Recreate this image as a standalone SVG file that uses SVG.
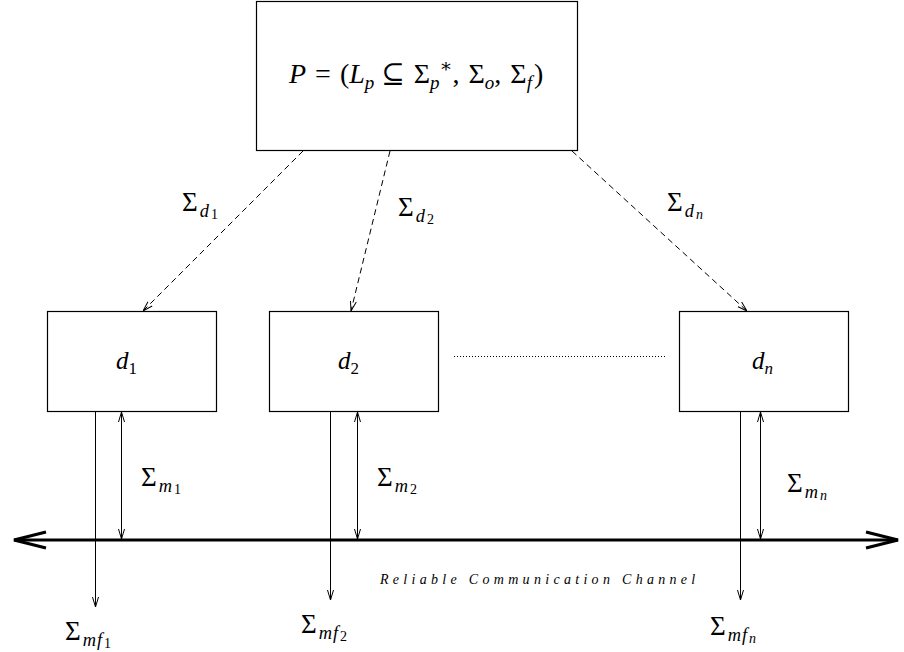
<svg xmlns="http://www.w3.org/2000/svg" width="904" height="652" viewBox="0 0 904 652">
<style>
.box{fill:#fff;stroke:#000;stroke-width:1.2}
.ln{stroke:#000;stroke-width:1;fill:none}
.dash{stroke:#000;stroke-width:1;fill:none;stroke-dasharray:6,4}
text{font-family:"Liberation Serif","DejaVu Serif",serif;fill:#000}
.i{font-style:italic}
.s1{font-size:68%}
.s2{font-size:52%}
</style>
<defs>
<marker id="ah" viewBox="0 0 10 10" refX="10" refY="5" markerWidth="10" markerHeight="10" markerUnits="userSpaceOnUse" orient="auto-start-reverse">
<path d="M0,2 L10,5 L0,8" fill="none" stroke="#000" stroke-width="1"/>
</marker>
<marker id="big" viewBox="0 0 36 20" refX="34" refY="10" markerWidth="36" markerHeight="20" markerUnits="userSpaceOnUse" orient="auto-start-reverse">
<path d="M2,2 L34,10 L2,18" fill="none" stroke="#000" stroke-width="3"/>
</marker>
</defs>
<rect width="904" height="652" fill="#fff"/>

<g id="P">
<rect class="box" x="256.5" y="1.5" width="321" height="149"/>
<text x="289" y="83" font-size="28" word-spacing="2"><tspan class="i">P</tspan> = (<tspan class="i">L</tspan><tspan class="i s1" dy="6">p</tspan><tspan dx="7" dy="-6">⊆ Σ</tspan><tspan class="i s1" dy="6">p</tspan><tspan class="s1" dy="-17">∗</tspan><tspan dy="11">, Σ</tspan><tspan class="i s1" dy="6">o</tspan><tspan dy="-6">, Σ</tspan><tspan class="i s1" dy="6">f</tspan><tspan dx="2" dy="-6">)</tspan></text>
</g>

<g id="d1">
<rect class="box" x="47.5" y="311.5" width="169" height="100"/>
<text x="116" y="369" font-size="25"><tspan class="i">d</tspan><tspan class="s1" dy="5">1</tspan></text>
</g>
<g id="d2">
<rect class="box" x="269.5" y="311.5" width="169" height="100"/>
<text x="338" y="369" font-size="25"><tspan class="i">d</tspan><tspan class="s1" dy="5">2</tspan></text>
</g>
<g id="dn">
<rect class="box" x="679.5" y="311.5" width="169" height="100"/>
<text x="752" y="369" font-size="25"><tspan class="i">d</tspan><tspan class="i s1" dy="5">n</tspan></text>
</g>

<g id="connectors">
<line class="dash" x1="303" y1="151" x2="143" y2="311" marker-end="url(#ah)"/>
<line class="dash" x1="390" y1="151" x2="351" y2="311" marker-end="url(#ah)"/>
<line class="dash" x1="572" y1="151" x2="747" y2="311" marker-end="url(#ah)"/>
<line x1="454" y1="356.5" x2="666" y2="356.5" stroke="#000" stroke-width="1" stroke-dasharray="1,2"/>
<line x1="14" y1="540" x2="898" y2="540" stroke="#000" stroke-width="3" marker-start="url(#big)" marker-end="url(#big)"/>
<line class="ln" x1="95.5" y1="412" x2="95.5" y2="607" marker-end="url(#ah)"/>
<line class="ln" x1="121.5" y1="412" x2="121.5" y2="539" marker-start="url(#ah)" marker-end="url(#ah)"/>
<line class="ln" x1="330.5" y1="412" x2="330.5" y2="600" marker-end="url(#ah)"/>
<line class="ln" x1="357.5" y1="412" x2="357.5" y2="539" marker-start="url(#ah)" marker-end="url(#ah)"/>
<line class="ln" x1="740.5" y1="412" x2="740.5" y2="600" marker-end="url(#ah)"/>
<line class="ln" x1="760.5" y1="412" x2="760.5" y2="539" marker-start="url(#ah)" marker-end="url(#ah)"/>
</g>

<g id="labels" font-size="27">
<text x="182" y="211">Σ<tspan class="i s1" dx="2" dy="6">d</tspan><tspan class="s2" dx="2" dy="2">1</tspan></text>
<text x="398" y="216">Σ<tspan class="i s1" dx="2" dy="6">d</tspan><tspan class="s2" dx="2" dy="2">2</tspan></text>
<text x="667" y="211">Σ<tspan class="i s1" dx="2" dy="6">d</tspan><tspan class="i s2" dx="2" dy="2">n</tspan></text>
<text x="141" y="486">Σ<tspan class="i s1" dx="2" dy="6">m</tspan><tspan class="s2" dx="2" dy="2">1</tspan></text>
<text x="377" y="486">Σ<tspan class="i s1" dx="2" dy="6">m</tspan><tspan class="s2" dx="2" dy="2">2</tspan></text>
<text x="787" y="492">Σ<tspan class="i s1" dx="2" dy="6">m</tspan><tspan class="i s2" dx="2" dy="2">n</tspan></text>
<text x="65" y="640">Σ<tspan class="i s1" dx="2" dy="6">m</tspan><tspan class="i s1" dx="1">f</tspan><tspan class="s2" dx="2" dy="2">1</tspan></text>
<text x="301" y="633">Σ<tspan class="i s1" dx="2" dy="6">m</tspan><tspan class="i s1" dx="1">f</tspan><tspan class="s2" dx="2" dy="2">2</tspan></text>
<text x="710" y="635">Σ<tspan class="i s1" dx="2" dy="6">m</tspan><tspan class="i s1" dx="1">f</tspan><tspan class="i s2" dx="2" dy="2">n</tspan></text>
<text class="i" x="380" y="584" font-size="14" letter-spacing="4.3">Reliable Communication Channel</text>
</g>
</svg>
